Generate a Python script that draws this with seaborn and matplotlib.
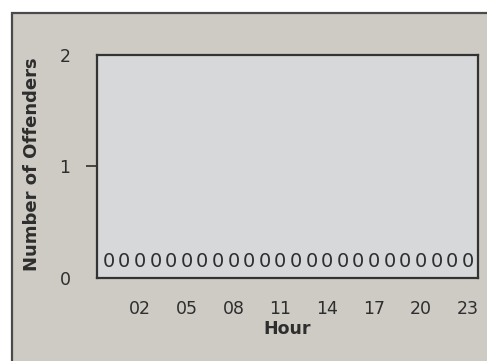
import matplotlib
matplotlib.use("Agg")
import matplotlib.pyplot as plt
from matplotlib.patches import Rectangle
import seaborn as sns
import pandas as pd

# offenders per hour of day (all zero in the source)
hours = list(range(24))
offenders = [0] * 24
tick_hours = [2, 5, 8, 11, 14, 17, 20, 23]
tick_labels = ["02", "05", "08", "11", "14", "17", "20", "23"]

df = pd.DataFrame({"Hour": hours, "Offenders": offenders})

sns.set_style("white")
plt.rcParams["font.family"] = ["DejaVu Sans"]
ink = "#2e2e2e"

fig = plt.figure(figsize=(4.87, 3.61), dpi=100, facecolor="white")
# outer grey panel with dark frame (right/bottom run off the page)
fig.patches.append(Rectangle((0.0246, -0.2), 1.2, 0.2 + 0.964,
                             transform=fig.transFigure, facecolor="#cdcbc3",
                             edgecolor="#4a4a4a", linewidth=1.6, zorder=-1))

ax = fig.add_axes([0.199, 0.230, 0.782, 0.618])
ax.set_facecolor("#d7d8da")

sns.barplot(data=df, x="Hour", y="Offenders", color="#888888", ax=ax,
            errorbar=None, width=0.8)
for c in ax.containers:
    ax.bar_label(c, labels=[str(v) for v in offenders], padding=5,
                 fontsize=14, color=ink)

ax.set_xlim(-0.75, 23.65)
ax.set_ylim(0, 2)

ax.set_xticks(tick_hours)
ax.set_xticklabels(tick_labels)
ax.set_yticks([1])
ax.set_yticklabels(["1"])
ax.set_yticks([0, 2], minor=True)
ax.set_yticklabels(["0", "2"], minor=True)

ax.tick_params(axis="x", which="major", direction="out", length=8, width=1.3,
               color="#3a3a3a", pad=8, labelsize=12.5, labelcolor=ink)
ax.tick_params(axis="y", which="major", direction="out", length=8, width=1.3,
               color="#3a3a3a", pad=11, labelsize=12.5, labelcolor=ink, left=True)
ax.tick_params(axis="y", which="minor", length=0, pad=19, labelsize=12.5,
               labelcolor=ink)

for s in ax.spines.values():
    s.set_visible(True)
    s.set_color("#333333")
    s.set_linewidth(1.6)

ax.set_xlabel("Hour", fontsize=12.5, fontweight="bold", color=ink, labelpad=1)
ax.set_ylabel("Number of Offenders", fontsize=13, fontweight="bold", color=ink)
ax.yaxis.set_label_coords(-0.147, 0.51)

fig.savefig("out.png", dpi=100, facecolor=fig.get_facecolor())
